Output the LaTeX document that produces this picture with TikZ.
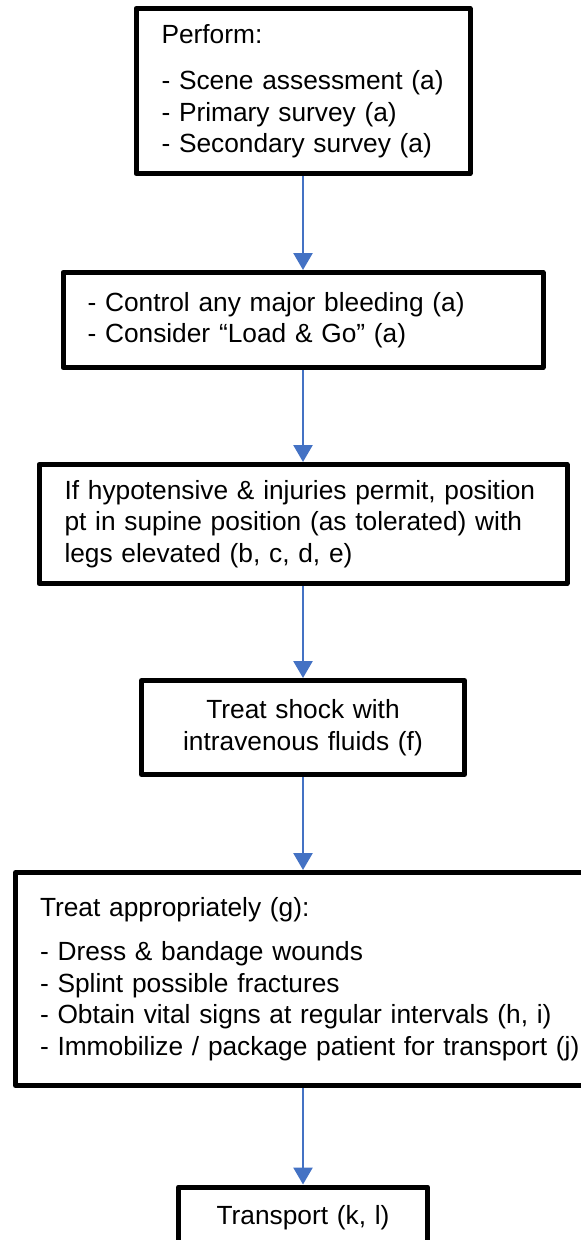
\documentclass[tikz,border=0pt]{standalone}
\usepackage{fontspec}
\setmainfont{Liberation Sans}
\usepackage{tikz}
\usetikzlibrary{arrows.meta}
\usetikzlibrary{positioning}
\definecolor{flowblue}{HTML}{4472C4}
\tikzstyle{block}=[rectangle, draw=black, line width=5pt, line join=round, align=left, font=\fontsize{26.3}{31.5}\selectfont]
\tikzstyle{flow}=[->, draw=flowblue, line width=2.6pt]
\tikzset{>={Triangle[width=19pt,length=17pt]}}
\newcommand{\oneline}[1]{\mbox{#1}}

\begin{document}
\begin{tikzpicture}[x=1pt, y=-1pt]
      \useasboundingbox (0, 0) rectangle (581, 1240);

      \draw node at (303, 91) [block, inner xsep=25.5pt, text width=283pt, minimum height=165pt] (perform)
        {Perform:\\[15pt]\oneline{- Scene assessment (a)}\\\oneline{- Primary survey (a)}\\\oneline{- Secondary survey (a)}};
      \draw node at (303, 320) [block, inner xsep=24.5pt, text width=431pt, minimum height=95pt] (bleed)
        {\oneline{- Control any major bleeding (a)}\\\oneline{- Consider \textquotedblleft Load \& Go\textquotedblright{} (a)}};
      \draw node at (303, 524) [block, inner xsep=25.5pt, text width=477pt, minimum height=119pt] (supine)
        {\oneline{If hypotensive \& injuries permit, position}\\\oneline{pt in supine position (as tolerated) with}\\\oneline{legs elevated (b, c, d, e)}};
      \draw node at (303, 727.5) [block, align=center, inner xsep=25pt, text width=273pt, minimum height=94pt] (fluids)
        {Treat shock with\\intravenous fluids (f)};
      \draw node at (307.5, 979) [block, inner xsep=24.5pt, text width=535pt, minimum height=213pt] (treat)
        {Treat appropriately (g):\\[13pt]\oneline{- Dress \& bandage wounds}\\\oneline{- Splint possible fractures}\\\oneline{- Obtain vital signs at regular intervals (h, i)}\\\oneline{- Immobilize / package patient for transport (j)}};
      \draw node at (303, 1184.5) [block, anchor=north, align=center, inner xsep=25pt, inner ysep=18pt, text width=199pt, text depth=30pt] (transport)
        {Transport (k, l)};

      \draw [flow] (perform) to (bleed);
      \draw [flow] (bleed) to (supine);
      \draw [flow] (supine) to (fluids);
      \draw [flow] (fluids) to (fluids |- treat.north);
      \draw [flow] (transport |- treat.south) to (transport);
    \end{tikzpicture}
\end{document}
